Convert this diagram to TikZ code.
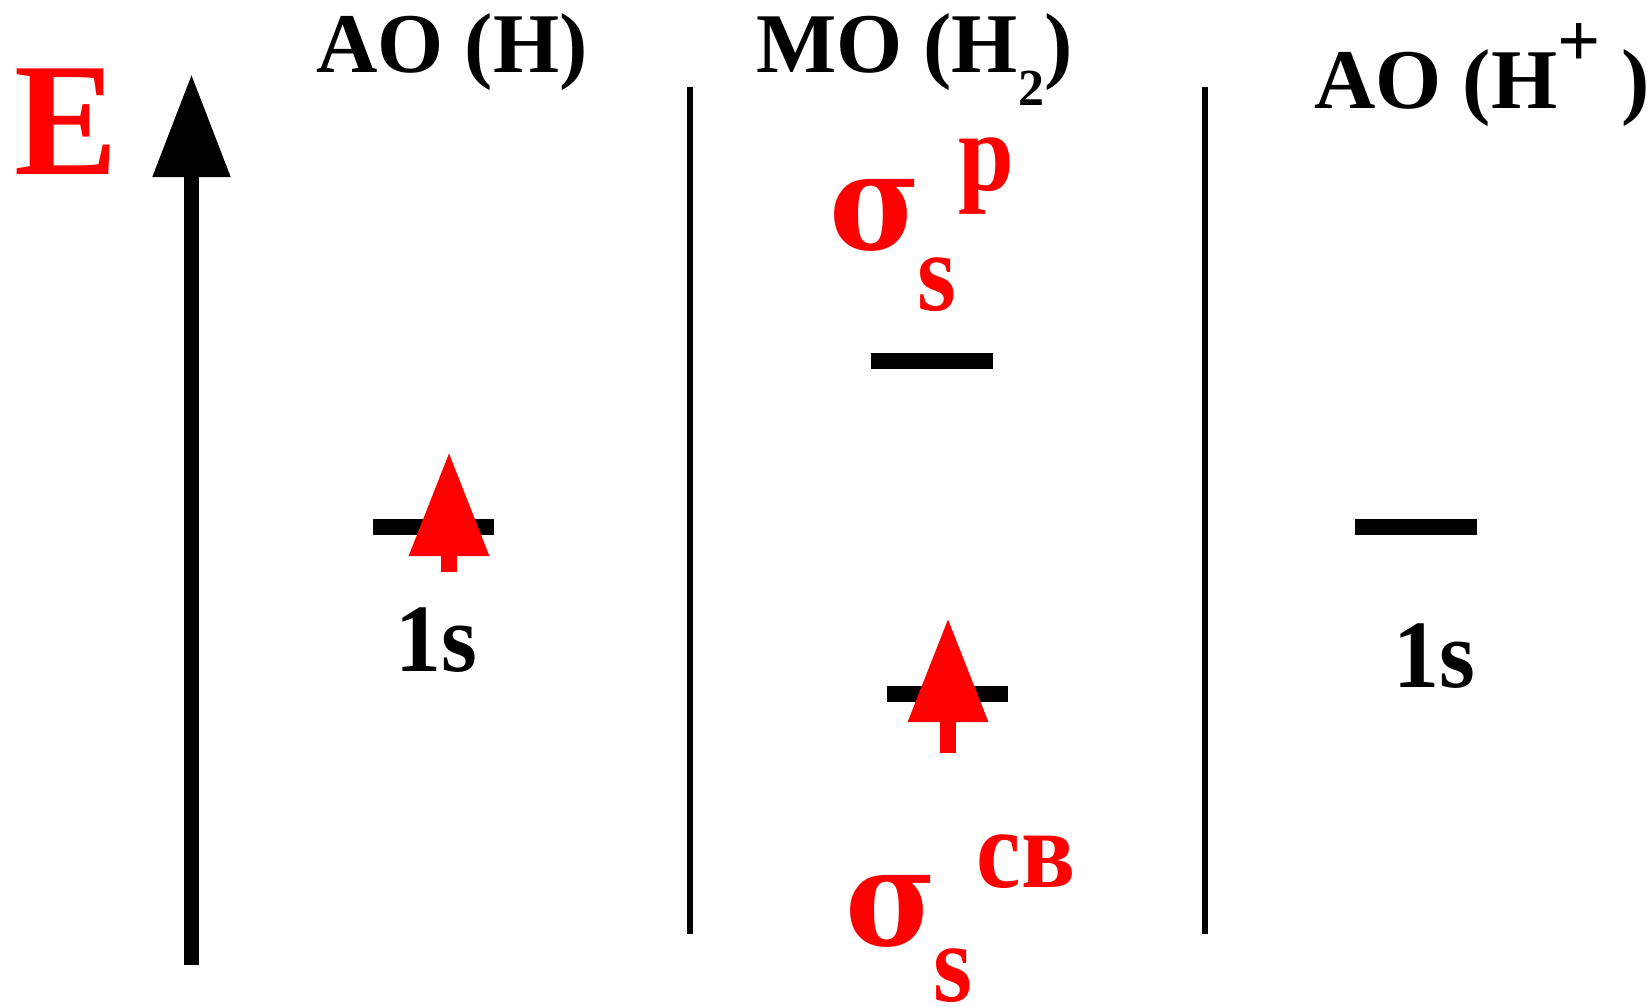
\documentclass[tikz,border=0pt]{standalone}
\usepackage{fontspec}
\setmainfont{Liberation Serif}[BoldFont={Liberation Serif Bold}]
\newfontfamily\sigfont{DejaVu Serif}[BoldFont={DejaVu Serif Bold}]
\usetikzlibrary{arrows.meta}
\definecolor{myred}{RGB}{255,0,0}
\newcommand{\fsz}[1]{\fontsize{#1}{#1}\selectfont}
\begin{document}
\begin{tikzpicture}[x=1pt,y=-1pt,
  txt/.style={inner sep=0pt, outer sep=0pt, font=\bfseries},
  redtxt/.style={txt, text=myred},
  levelbar/.style={line width=16pt, black},
  divider/.style={line width=6pt, black},
  spin/.style={myred, line width=16pt, -{Triangle[length=104pt,width=76pt]}},
  eaxis/.style={black, line width=15pt, -{Triangle[length=103pt,width=74pt]}}]
\useasboundingbox (0,0) rectangle (1650,1007);

% energy axis
\node[redtxt, anchor=center] (E) at (66.5,121.5) {\fsz{148}\scalebox{1.05}[1.09]{E}};
\coordinate (ebot) at (191.5,965);
\coordinate (etop) at (191.5,74);
\draw[eaxis] (ebot) -- (etop);

% titles
\node[txt, anchor=base west] (t1) at (316,72) {\fsz{85}AO (H)};
\node[txt, anchor=base west] (t2) at (756,72) {\fsz{85}MO (H\raisebox{-33pt}{\fsz{52}2})};
\node[txt, anchor=base west] (t3) at (1314,108) {\fsz{85}AO (H\raisebox{42pt}{\fsz{76}+} )};

% dividers
\coordinate (d1t) at (690,87); \coordinate (d1b) at (690,934);
\coordinate (d2t) at (1205,87); \coordinate (d2b) at (1205,934);
\draw[divider] (d1t) -- (d1b);
\draw[divider] (d2t) -- (d2b);

% levels
\coordinate (l1a) at (373,527); \coordinate (l1b) at (494,527);
\coordinate (l2a) at (871,361); \coordinate (l2b) at (993,361);
\coordinate (l3a) at (887,693.5); \coordinate (l3b) at (1008,693.5);
\coordinate (l4a) at (1355,527); \coordinate (l4b) at (1477,527);
\draw[levelbar] (l1a) -- (l1b);
\draw[levelbar] (l2a) -- (l2b);
\draw[levelbar] (l3a) -- (l3b);
\draw[levelbar] (l4a) -- (l4b);

% electrons
\coordinate (s1a) at (449,572); \coordinate (s1b) at (449,452);
\coordinate (s2a) at (948,753); \coordinate (s2b) at (948,618);
\draw[spin] (s1a) -- (s1b);
\draw[spin] (s2a) -- (s2b);

% 1s labels
\node[txt, anchor=base] (o1) at (436.5,671) {\fsz{92}\scalebox{1}[1.05]{1s}};
\node[txt, anchor=base] (o2) at (1434,687) {\fsz{92}\scalebox{1}[1.05]{1s}};

% antibonding label
\node[redtxt, anchor=center] (sg1) at (875,215) {\sigfont\fsz{135}\scalebox{0.92}[1]{σ}};
\node[redtxt, anchor=center] (sp1) at (986.5,176.5) {\fsz{100}\scalebox{1}[1.12]{р}};
\node[redtxt, anchor=center] (ss1) at (937,284.5) {\fsz{100}\scalebox{1}[1.12]{s}};

% bonding label
\node[redtxt, anchor=center] (sg2) at (891,911) {\sigfont\fsz{135}\scalebox{0.92}[1]{σ}};
\node[redtxt, anchor=center] (sp2) at (1026,861.5) {\fsz{100}\scalebox{1}[1.12]{св}};
\node[redtxt, anchor=center] (ss2) at (953,976) {\fsz{100}\scalebox{1}[1.12]{s}};
\end{tikzpicture}
\end{document}
